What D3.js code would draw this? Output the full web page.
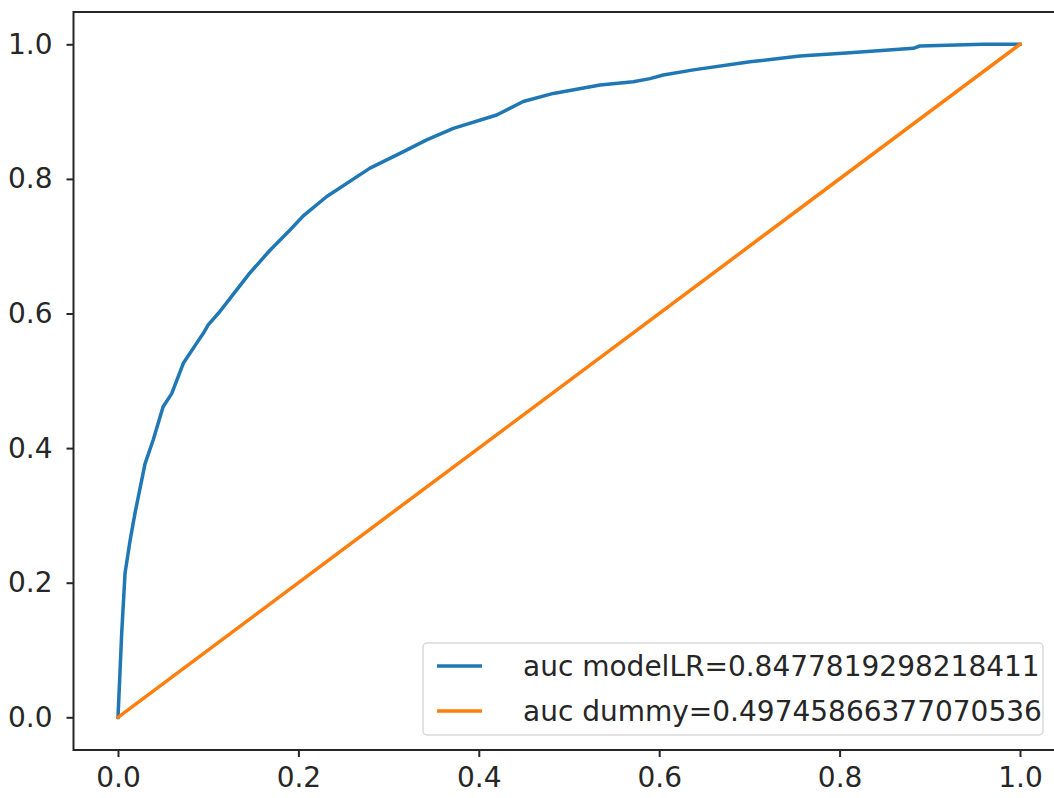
<!DOCTYPE html>
<html>
<head>
<meta charset="utf-8">
<script src="https://cdn.jsdelivr.net/npm/d3@7"></script>
<style>
  body { margin: 0; background: #fff; }
  svg { display: block; font-family: "DejaVu Sans", sans-serif; }
</style>
</head>
<body>
<svg width="1054" height="798"></svg>
<script>
// ROC curve points (false positive rate, true positive rate)
var fprLR = [0, 0.0041, 0.0078, 0.0133, 0.0188, 0.030, 0.039, 0.050, 0.0595, 0.0724, 0.0872,
    0.0946, 0.100, 0.113, 0.124, 0.146, 0.1685, 0.1907, 0.2054, 0.2311, 0.2646, 0.2794, 0.3126,
    0.3422, 0.3718, 0.4198, 0.4493, 0.4826, 0.5344, 0.5713, 0.5898, 0.6045, 0.638, 0.7007,
    0.756, 0.8115, 0.8817, 0.889, 0.9593, 1.0];
var tprLR = [0, 0.125, 0.214, 0.262, 0.303, 0.377, 0.412, 0.4615, 0.481, 0.526, 0.556,
    0.5706, 0.583, 0.603, 0.622, 0.660, 0.694, 0.724, 0.745, 0.7735, 0.803, 0.816, 0.838,
    0.858, 0.875, 0.895, 0.915, 0.927, 0.9395, 0.9444, 0.949, 0.9544, 0.962, 0.974,
    0.9826, 0.9875, 0.994, 0.9975, 1.0, 1.0];
var fprDummy = [0, 1];
var tprDummy = [0, 1];

var seriesNames = ['auc modelLR=0.8477819298218411', 'auc dummy=0.49745866377070536'];
var seriesColors = ['#1f77b4', '#ff7f0e'];
var tickValues = [0, 0.2, 0.4, 0.6, 0.8, 1.0];

var fontSize = 28;
var svg = d3.select('svg');

// Axes box (right spine falls just outside the picture)
var box = {l: 73.5, r: 1065, t: 12, b: 750};

var xScale = d3.scaleLinear().domain([0, 1]).range([118, 1020]);
var yScale = d3.scaleLinear().domain([0, 1]).range([717.3, 44.3]);

// Axes
var xAxisG = svg.append('g')
    .attr('transform', 'translate(' + [0, box.b] + ')')
    .call(d3.axisBottom(xScale).tickValues(tickValues).tickFormat(d3.format('.1f'))
        .tickSize(7).tickPadding(10));
var yAxisG = svg.append('g')
    .attr('transform', 'translate(' + [box.l, 0] + ')')
    .call(d3.axisLeft(yScale).tickValues(tickValues).tickFormat(d3.format('.1f'))
        .tickSize(7).tickPadding(14));

[xAxisG, yAxisG].forEach(function(g) {
    g.attr('font-size', null).attr('font-family', null);
    g.select('.domain').remove();
    g.selectAll('.tick line').attr('stroke', '#262626').attr('stroke-width', 2);
    g.selectAll('.tick text').attr('font-size', fontSize).attr('fill', '#262626');
});

// Lines
var line = d3.line()
    .x(function(d) { return xScale(d[0]); })
    .y(function(d) { return yScale(d[1]); });

var series = [
    d3.zip(fprLR, tprLR),
    d3.zip(fprDummy, tprDummy)
];

svg.selectAll('.roc')
    .data(series)
    .enter()
    .append('path')
    .attr('class', 'roc')
    .attr('d', line)
    .attr('fill', 'none')
    .attr('stroke', function(d, i) { return seriesColors[i]; })
    .attr('stroke-width', 3.5)
    .attr('stroke-linejoin', 'round')
    .attr('stroke-linecap', 'square');

// Frame
svg.append('rect')
    .attr('x', box.l)
    .attr('y', box.t)
    .attr('width', box.r - box.l)
    .attr('height', box.b - box.t)
    .attr('fill', 'none')
    .attr('stroke', '#262626')
    .attr('stroke-width', 2);

// Legend
var legendG = svg.append('g')
    .attr('transform', 'translate(' + [423, 643] + ')');

legendG.append('rect')
    .attr('width', 620)
    .attr('height', 92)
    .attr('rx', 4)
    .attr('fill', 'rgba(255,255,255,0.8)')
    .attr('stroke', '#d9d9d9')
    .attr('stroke-width', 1.5);

var items = legendG.selectAll('.item')
    .data(seriesNames)
    .enter()
    .append('g')
    .attr('class', 'item')
    .attr('transform', function(d, i) { return 'translate(' + [0, 23 + i * 45] + ')'; });

items.append('line')
    .attr('x1', 14)
    .attr('x2', 59)
    .attr('stroke', function(d, i) { return seriesColors[i]; })
    .attr('stroke-width', 3.5);

items.append('text')
    .attr('x', 100)
    .attr('dy', '0.35em')
    .attr('font-size', fontSize)
    .attr('fill', '#262626')
    .text(function(d) { return d; });
</script>
</body>
</html>
